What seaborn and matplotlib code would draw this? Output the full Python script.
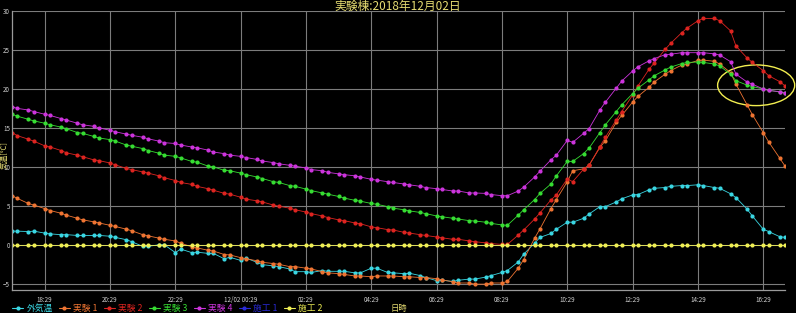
import numpy as np
import pandas as pd
import matplotlib.pyplot as plt
import matplotlib.dates as mdates
from matplotlib.lines import Line2D
from matplotlib.patches import Ellipse
import seaborn as sns

# sampling: every 30 min starting 17:29, plus a second reading 10 min later
start = pd.Timestamp('2018-12-01 17:29')
slots = pd.date_range(start, periods=48, freq='30min')
times = sorted(list(slots) + list(slots + pd.Timedelta('10min')))

outdoor = [1.75, 1.75, 1.7, 1.75, 1.5, 1.4, 1.3, 1.3, 1.2, 1.2,
           1.2, 1.2, 1.1, 0.95, 0.65, 0.4, -0.2, -0.2, 0.0, 0.0,
           -1.0, -0.55, -1.0, -0.95, -1.1, -1.1, -1.8, -1.6, -2.0, -1.7,
           -2.25, -2.55, -2.7, -2.8, -3.1, -3.45, -3.45, -3.55, -3.3, -3.4,
           -3.4, -3.4, -3.6, -3.6, -3.0, -3.0, -3.55, -3.6, -3.7, -3.65,
           -3.95, -4.2, -4.6, -4.55, -4.7, -4.55, -4.4, -4.4, -4.15, -3.95,
           -3.55, -3.3, -2.2, -1.2, 0.2, 0.95, 1.45, 2.0, 2.9, 2.9,
           3.4, 3.95, 4.9, 4.9, 5.5, 5.9, 6.4, 6.45,
           7.05, 7.25, 7.35, 7.5, 7.6, 7.6, 7.7, 7.6, 7.35, 7.25,
           6.55, 6.05, 4.6, 3.7, 2.0, 1.7, 1.05, 0.95]

exp1 = [6.3, 5.95, 5.3, 5.1, 4.65, 4.4, 4.05, 3.8, 3.4, 3.2,
        2.95, 2.8, 2.5, 2.35, 2.0, 1.8, 1.3, 1.15, 0.85, 0.7,
        0.5, 0.2, -0.25, -0.4, -0.7, -0.8, -1.25, -1.3, -1.65, -1.8,
        -2.05, -2.25, -2.4, -2.5, -2.8, -2.8, -3.0, -3.1, -3.45, -3.6,
        -3.7, -3.8, -4.0, -4.0, -4.1, -4.0, -4.0, -4.0, -4.1, -4.1,
        -4.2, -4.2, -4.35, -4.5, -4.75, -4.9, -4.9, -5.05, -5.05, -4.9,
        -4.9, -4.7, -3.0, -1.9, 0.85, 2.05, 4.65, 5.8, 8.1, 9.5,
        9.75, 10.2, 12.5, 13.35, 15.7, 16.6, 18.3, 19.05,
        20.2, 20.9, 21.9, 22.35, 23.05, 23.2, 23.65, 23.7, 23.55, 23.2,
        22.1, 20.6, 18.0, 16.7, 14.4, 13.2, 11.15, 10.1]

exp2 = [14.4, 14.0, 13.55, 13.3, 12.7, 12.55, 12.1, 11.8, 11.5, 11.3,
        10.9, 10.8, 10.5, 10.25, 9.8, 9.65, 9.35, 9.2, 8.85, 8.6,
        8.25, 8.0, 7.75, 7.5, 7.2, 7.0, 6.6, 6.5, 6.1, 5.85,
        5.65, 5.5, 5.1, 4.95, 4.7, 4.5, 4.2, 4.0, 3.7, 3.5,
        3.2, 3.1, 2.8, 2.7, 2.3, 2.2, 1.95, 1.9, 1.6, 1.5,
        1.3, 1.2, 1.0, 0.9, 0.7, 0.7, 0.5, 0.4, 0.25, 0.15,
        0.05, 0.05, 1.25, 1.9, 3.3, 4.1, 5.75, 6.4, 8.45, 8.1,
        9.7, 10.2, 12.6, 13.8, 16.0, 17.1, 19.2, 20.4,
        22.5, 23.35, 25.1, 25.85, 27.2, 27.8, 28.75, 29.05, 29.05, 28.75,
        27.45, 25.5, 24.0, 23.4, 22.35, 21.7, 20.95, 20.4]

exp3 = [16.75, 16.5, 16.1, 15.9, 15.6, 15.4, 15.1, 14.9, 14.4, 14.3,
        13.9, 13.7, 13.5, 13.3, 12.8, 12.65, 12.35, 12.1, 11.75, 11.5,
        11.35, 11.15, 10.7, 10.6, 10.1, 10.0, 9.55, 9.5, 9.2, 9.0,
        8.7, 8.5, 8.1, 8.0, 7.6, 7.5, 7.15, 6.95, 6.65, 6.5,
        6.2, 6.0, 5.7, 5.6, 5.3, 5.2, 4.9, 4.7, 4.5, 4.35,
        4.15, 4.0, 3.7, 3.6, 3.4, 3.3, 3.1, 3.05, 2.9, 2.75,
        2.55, 2.5, 3.8, 4.5, 5.8, 6.6, 7.8, 8.85, 10.7, 10.7,
        11.7, 12.4, 14.4, 15.4, 17.1, 17.95, 19.4, 20.1,
        21.15, 21.7, 22.45, 22.8, 23.25, 23.4, 23.45, 23.4, 23.2, 22.95,
        21.9, 21.05, 20.5, 20.3, 20.0, 19.85, 19.6, 19.5]

exp4 = [17.7, 17.5, 17.3, 17.1, 16.75, 16.6, 16.2, 16.0, 15.6, 15.4,
        15.2, 15.0, 14.7, 14.5, 14.2, 14.05, 13.8, 13.6, 13.3, 13.1,
        13.0, 12.8, 12.55, 12.45, 12.15, 11.9, 11.7, 11.5, 11.35, 11.2,
        10.95, 10.75, 10.55, 10.4, 10.2, 10.1, 9.85, 9.65, 9.5, 9.3,
        9.1, 9.0, 8.85, 8.7, 8.4, 8.3, 8.1, 8.0, 7.8, 7.7,
        7.5, 7.35, 7.2, 7.1, 6.9, 6.9, 6.65, 6.65, 6.6, 6.45,
        6.3, 6.3, 6.9, 7.4, 8.7, 9.45, 10.9, 11.5, 13.4, 13.15,
        14.3, 14.9, 17.3, 18.3, 20.1, 21.0, 22.3, 22.85,
        23.6, 23.9, 24.4, 24.45, 24.65, 24.65, 24.65, 24.65, 24.5, 24.35,
        23.5, 21.9, 20.9, 20.6, 20.0, 19.8, 19.65, 19.45]

site1 = [np.nan] * 96   # no data recorded
site2 = [0.0] * 96

names = ['外気温', '実験 1', '実験 2', '実験 3', '実験 4', '施工 1', '施工 2']
colors = ['#3ad6e2', '#ee7432', '#dc2420', '#36dc32', '#cc34dc', '#2a2ad8', '#eeee55']

tick_times = pd.date_range('2018-12-01 18:29', '2018-12-02 16:29', freq='2h')
tick_labels = ['18:29', '20:29', '22:29', '12/02 00:29', '02:29', '04:29',
               '06:29', '08:29', '10:29', '12:29', '14:29', '16:29']

df = pd.DataFrame({'日時': times, '外気温': outdoor, '実験 1': exp1, '実験 2': exp2,
                   '実験 3': exp3, '実験 4': exp4, '施工 1': site1, '施工 2': site2})
long = df.melt(id_vars='日時', var_name='系列', value_name='気温').dropna()

sns.set_theme(style='dark', rc={'axes.facecolor': 'black', 'figure.facecolor': 'black'})
plt.rcParams['font.family'] = ['Noto Sans CJK JP', 'DejaVu Sans']

fig = plt.figure(figsize=(7.96, 3.13), dpi=100)
ax = fig.add_axes([12 / 796, 1 - 290 / 313, 773 / 796, 279 / 313])

drawn = [n for n in names if n != '施工 1']
pal = dict(zip(names, colors))
sns.lineplot(data=long, x='日時', y='気温', hue='系列', hue_order=drawn, palette=pal,
             style='系列', style_order=drawn, markers={n: 'o' for n in drawn}, dashes=False,
             estimator=None, sort=False, lw=0.6, markersize=3.0, markeredgewidth=0,
             legend=False, ax=ax)

ax.set_xlim(pd.Timestamp('2018-12-01 17:29'), pd.Timestamp('2018-12-02 17:09'))
ax.set_ylim(-5.8, 30)
ax.set_xticks(mdates.date2num(tick_times.to_pydatetime()))
ax.set_xticklabels(tick_labels)
ax.set_yticks(range(-5, 31, 5))
ax.grid(True, color='#7c7c7c', lw=0.8)
ax.set_axisbelow(True)
for s in ['top', 'right']:
    ax.spines[s].set_visible(False)
for s in ['left', 'bottom']:
    ax.spines[s].set_color('#9a9a9a')
    ax.spines[s].set_linewidth(0.9)
ax.tick_params(axis='both', labelsize=4.5, colors='#d0d0d0', pad=2)
ax.tick_params(axis='x', length=2.5, color='#7c7c7c')
ax.tick_params(axis='y', length=0, pad=1.5)

khaki = '#e6dc72'
ax.set_xlabel('日時', fontsize=6, color=khaki)
ax.xaxis.set_label_coords(0.501, -0.05)
ax.set_ylabel('気温[℃]', fontsize=5.5, color=khaki)
ax.yaxis.set_label_coords(-0.0045, 0.484)
fig.text(0.499, 0.981, '実験棟:2018年12月02日', ha='center', va='center', fontsize=8.5, color=khaki)

# highlight around the evening convergence
ell = Ellipse((mdates.date2num(pd.Timestamp('2018-12-02 16:16')), 20.47), width=2.36 / 24, height=5.22,
              fill=False, edgecolor='#f2ee50', lw=1.0, clip_on=False)
ax.add_patch(ell)

handles = [Line2D([0], [0], color=c, marker='o', ms=3, lw=0.8, markeredgewidth=0) for c in colors]
leg = fig.legend(handles, names, loc='center left', bbox_to_anchor=(0.015, 0.015), ncol=7,
                 frameon=False, fontsize=6.3, handlelength=1.3, handletextpad=0.35,
                 columnspacing=0.7, borderpad=0, borderaxespad=0)
for t, c in zip(leg.get_texts(), colors):
    t.set_color(c)

fig.savefig('out.png', dpi=100, facecolor='black')
